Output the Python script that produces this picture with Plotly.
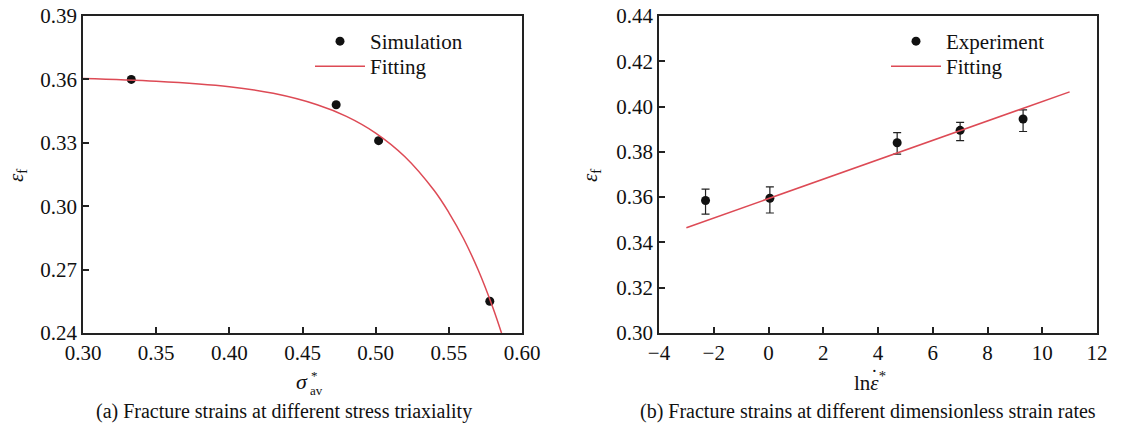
import plotly.graph_objects as go

# (a) fracture strain vs. stress triaxiality
sim_x = [0.333, 0.473, 0.502, 0.578]
sim_y = [0.360, 0.348, 0.331, 0.255]
fit_a_x = [0.300, 0.350, 0.400, 0.430, 0.460, 0.480, 0.500, 0.520, 0.540, 0.550, 0.560, 0.570, 0.580, 0.586]
fit_a_y = [0.3604, 0.3591, 0.3565, 0.3534, 0.3480, 0.3425, 0.3346, 0.3234, 0.3074, 0.2970, 0.2847, 0.2699, 0.2522, 0.2400]

# (b) fracture strain vs. dimensionless strain rate
exp_x = [-2.3, 0.05, 4.7, 7.0, 9.3]
exp_y = [0.3585, 0.3595, 0.3840, 0.3895, 0.3945]
err_plus = [0.0050, 0.0050, 0.0045, 0.0035, 0.0040]
err_minus = [0.0060, 0.0065, 0.0050, 0.0045, 0.0055]
fit_b_x = [-3.0, 11.0]
fit_b_y = [0.3465, 0.4065]

RED = "#dd4a55"
FONT = "Liberation Serif"
W, H = 1129, 430

fig = go.Figure()

fig.add_trace(go.Scatter(x=sim_x, y=sim_y, mode="markers", name="Simulation",
                         marker=dict(color="#111111", size=9),
                         xaxis="x", yaxis="y", legend="legend"))
fig.add_trace(go.Scatter(x=fit_a_x, y=fit_a_y, mode="lines", name="Fitting",
                         line=dict(color=RED, width=1.5, shape="spline"),
                         xaxis="x", yaxis="y", legend="legend3"))

fig.add_trace(go.Scatter(x=exp_x, y=exp_y, mode="markers", name="Experiment",
                         marker=dict(color="#111111", size=9),
                         error_y=dict(type="data", array=err_plus, arrayminus=err_minus,
                                      color="#222222", thickness=1.2, width=4),
                         xaxis="x2", yaxis="y2", legend="legend2"))
fig.add_trace(go.Scatter(x=fit_b_x, y=fit_b_y, mode="lines", name="Fitting",
                         line=dict(color=RED, width=1.5),
                         xaxis="x2", yaxis="y2", legend="legend4"))


def px_x(p):
    return p / W


def px_y(p):
    return 1 - p / H


axis_common = dict(showline=True, linecolor="#222222", linewidth=1.5, mirror=True,
                   ticks="inside", ticklen=6, tickwidth=1.5, tickcolor="#222222",
                   showgrid=False, zeroline=False, automargin=False,
                   tickfont=dict(family=FONT, size=21, color="#111111"))


def legend_at(xp, yp):
    return dict(x=px_x(xp), y=px_y(yp), xanchor="left", yanchor="top", bgcolor="rgba(0,0,0,0)",
                font=dict(family=FONT, size=21, color="#111111"), itemwidth=50)


fig.update_layout(
    width=W, height=H,
    margin=dict(l=0, r=0, t=0, b=0, autoexpand=False),
    paper_bgcolor="white", plot_bgcolor="white",
    font=dict(family=FONT, color="#111111"),
    xaxis=dict(domain=[px_x(83), px_x(522)], range=[0.30, 0.60], tickvals=[0.30, 0.35, 0.40, 0.45, 0.50, 0.55, 0.60],
               ticktext=["0.30", "0.35", "0.40", "0.45", "0.50", "0.55", "0.60"], anchor="y", **axis_common),
    yaxis=dict(domain=[px_y(333), px_y(16)], range=[0.24, 0.39], tickvals=[0.24, 0.27, 0.30, 0.33, 0.36, 0.39],
               ticktext=["0.24", "0.27", "0.30", "0.33", "0.36", "0.39"], anchor="x", **axis_common),
    xaxis2=dict(domain=[px_x(659), px_x(1097)], range=[-4, 12], tickvals=list(range(-4, 13, 2)),
                ticktext=["\u22124", "\u22122", "0", "2", "4", "6", "8", "10", "12"], anchor="y2", **axis_common),
    yaxis2=dict(domain=[px_y(333), px_y(16)], range=[0.30, 0.44],
                tickvals=[0.30, 0.32, 0.34, 0.36, 0.38, 0.40, 0.42, 0.44],
                ticktext=["0.30", "0.32", "0.34", "0.36", "0.38", "0.40", "0.42", "0.44"], anchor="x2", **axis_common),
    legend=legend_at(310, 21),
    legend3=legend_at(310, 46),
    legend2=legend_at(886, 21),
    legend4=legend_at(886, 46),
    showlegend=True,
)


def label(xp, yp, text, size, **kw):
    return dict(x=px_x(xp), y=px_y(yp), xref="paper", yref="paper", text=text,
                xanchor="center", yanchor="middle", showarrow=False,
                font=dict(family=FONT, size=size, color="#111111"), **kw)


ann = []
# y-axis titles
for xp in (17, 591):
    ann.append(label(xp, 176, "<i>ε</i><sub>f</sub>", 21, textangle=-90))
# x-axis title (a): sigma with stacked * and av
ann.append(label(302, 381, "<i>σ</i>", 22))
ann.append(label(314, 375, "*", 13))
ann.append(label(316, 390, "av", 13))
# x-axis title (b): ln of dotted epsilon, starred
ann.append(label(870, 381, "ln<i>ε</i><sup>*</sup>", 21))
ann.append(label(874, 377, "˙", 20))
# panel captions
ann.append(label(284, 411, "(a) Fracture strains at different stress triaxiality", 20))
ann.append(label(868, 411, "(b) Fracture strains at different dimensionless strain rates", 20))
fig.update_layout(annotations=ann)

fig.write_html("out.html")
